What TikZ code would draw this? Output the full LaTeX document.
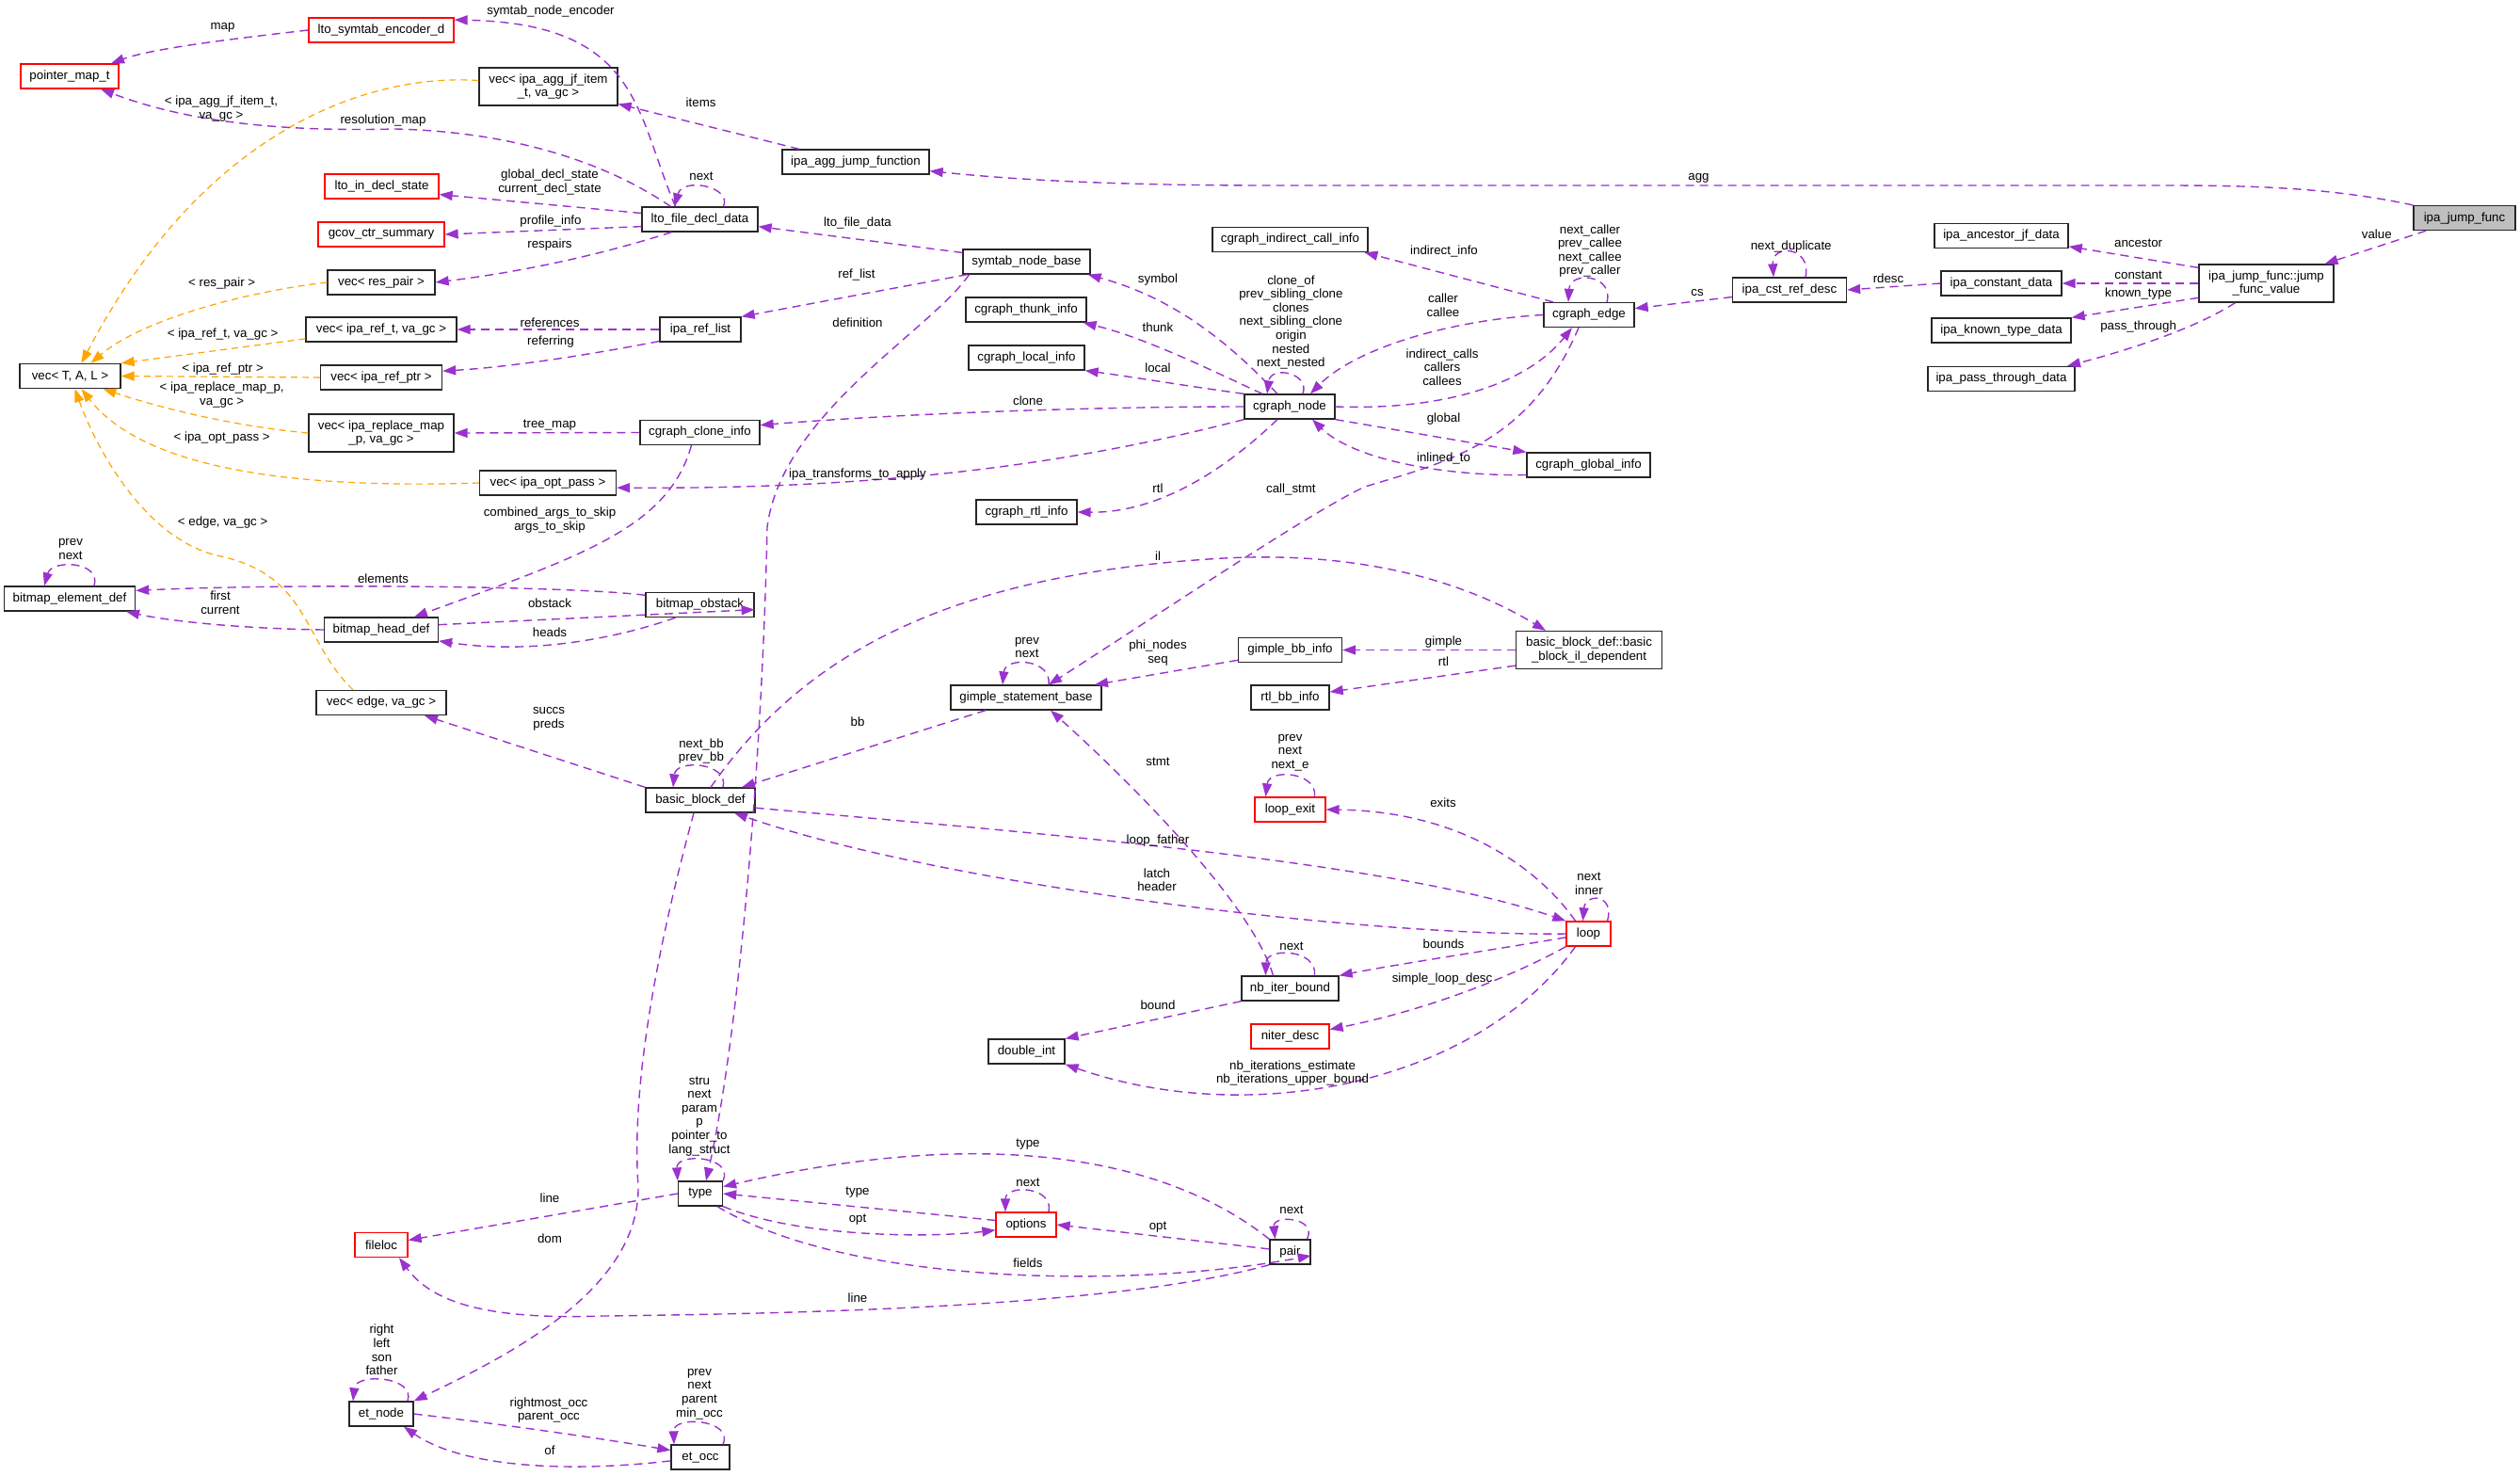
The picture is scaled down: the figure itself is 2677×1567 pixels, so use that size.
\documentclass[tikz,border=0pt]{standalone}
\usepackage{fontspec}
\setmainfont{Liberation Sans}
\usetikzlibrary{arrows.meta}
\definecolor{edgeP}{HTML}{9A32CD}
\definecolor{edgeO}{HTML}{FFA500}
\definecolor{gfill}{HTML}{BFBFBF}
\newcommand\dxf{\fontsize{13.3}{14.6}\selectfont}
\tikzset{
  cls/.style={draw=black!85, line width=1.3pt, fill=white, inner sep=0pt, minimum height=26pt, font=\dxf, align=center},
  cls2/.style={cls, minimum height=40pt},
  trunc/.style={cls, draw=red},
  e/.style={draw=edgeP, line width=1.4pt, dash pattern=on 9pt off 6pt, -{Triangle[length=14pt,width=10pt]}},
  eo/.style={e, draw=edgeO, line width=1.2pt, dash pattern=on 7pt off 5pt},
  lab/.style={font=\dxf, inner sep=0pt, align=center},
}
\begin{document}
\begin{tikzpicture}[x=1pt,y=-1pt]
\fill[white] (0,0) rectangle (2677,1567);
\useasboundingbox (0,0) rectangle (2677,1567);

% ---------- nodes ----------
\node[trunc, minimum width=154pt] (enc) at (405,32) {lto\_symtab\_encoder\_d};
\node[trunc, minimum width=104pt] (ptr) at (74,81) {pointer\_map\_t};
\node[cls2, minimum width=147pt] (vagg) at (582.5,92) {vec< ipa\_agg\_jf\_item\\\_t, va\_gc >};
\node[trunc, minimum width=121pt] (lin) at (405.5,198) {lto\_in\_decl\_state};
\node[trunc, minimum width=134pt] (gcov) at (405,249) {gcov\_ctr\_summary};
\node[cls, minimum width=114pt] (vres) at (405,300) {vec< res\_pair >};
\node[cls, minimum width=160pt] (vref) at (405,350) {vec< ipa\_ref\_t, va\_gc >};
\node[cls, minimum width=107pt] (vtal) at (74.5,399.5) {vec< T, A, L >};
\node[cls, minimum width=129pt] (vptr) at (405,401) {vec< ipa\_ref\_ptr >};
\node[cls2, minimum width=154pt] (vrep) at (405,460) {vec< ipa\_replace\_map\\\_p, va\_gc >};
\node[cls, minimum width=145pt] (vopt) at (582,513) {vec< ipa\_opt\_pass >};
\node[cls, minimum width=156pt] (aggjf) at (909,172) {ipa\_agg\_jump\_function};
\node[cls, minimum width=123pt] (lfdd) at (743.5,233) {lto\_file\_decl\_data};
\node[cls, minimum width=135pt] (snb) at (1090.5,278) {symtab\_node\_base};
\node[cls, minimum width=128pt] (thunk) at (1090,329) {cgraph\_thunk\_info};
\node[cls, minimum width=123pt] (local) at (1090.5,380) {cgraph\_local\_info};
\node[cls, minimum width=86pt] (reflist) at (744,350) {ipa\_ref\_list};
\node[cls, minimum width=127pt] (clone) at (743.5,459.5) {cgraph\_clone\_info};
\node[cls, minimum width=96pt] (cnode) at (1370,432) {cgraph\_node};
\node[cls, minimum width=165pt] (ici) at (1370.5,254.5) {cgraph\_indirect\_call\_info};
\node[cls, minimum width=96pt] (cedge) at (1688,334.5) {cgraph\_edge};
\node[cls, minimum width=121pt] (cst) at (1901,308) {ipa\_cst\_ref\_desc};
\node[cls, minimum width=131pt] (cgi) at (1687.5,494) {cgraph\_global\_info};
\node[cls, minimum width=108pt, fill=gfill] (jf) at (2618,231.6) {ipa\_jump\_func};
\node[cls, minimum width=142pt] (anc) at (2126,250.5) {ipa\_ancestor\_jf\_data};
\node[cls2, minimum width=143pt] (jfv) at (2407.5,301) {ipa\_jump\_func::jump\\\_func\_value};
\node[cls, minimum width=128pt] (const) at (2126,301) {ipa\_constant\_data};
\node[cls, minimum width=148pt] (known) at (2126,351) {ipa\_known\_type\_data};
\node[cls, minimum width=156pt] (pass) at (2126,402.5) {ipa\_pass\_through\_data};
\node[cls, minimum width=139pt] (bed) at (74,636) {bitmap\_element\_def};
\node[cls, minimum width=121pt] (bhd) at (405,669) {bitmap\_head\_def};
\node[cls, minimum width=138pt] (vedge) at (405,746.5) {vec< edge, va\_gc >};
\node[cls, minimum width=115pt] (bobs) at (743.5,642.5) {bitmap\_obstack};
\node[cls, minimum width=107pt] (rtli) at (1090.5,544) {cgraph\_rtl\_info};
\node[cls, minimum width=160pt] (gsb) at (1090,741) {gimple\_statement\_base};
\node[cls, minimum width=116pt] (bbd) at (744,850) {basic\_block\_def};
\node[cls, minimum width=110pt] (gbb) at (1370.5,690.5) {gimple\_bb\_info};
\node[cls2, minimum width=155pt] (bbil) at (1688,690.5) {basic\_block\_def::basic\\\_block\_il\_dependent};
\node[cls, minimum width=83pt] (rbb) at (1370.5,741) {rtl\_bb\_info};
\node[trunc, minimum width=75pt] (lexit) at (1370.5,860) {loop\_exit};
\node[trunc, minimum width=47pt] (loop) at (1687.5,992) {loop};
\node[cls, minimum width=103pt] (nib) at (1370.5,1050) {nb\_iter\_bound};
\node[trunc, minimum width=83pt] (nd) at (1370.5,1101) {niter\_desc};
\node[cls, minimum width=43pt] (pair) at (1370.5,1330) {pair};
\node[cls, minimum width=81pt] (dint) at (1090.5,1117) {double\_int};
\node[cls, minimum width=47pt] (type) at (744,1268) {type};
\node[trunc, minimum width=64pt] (opts) at (1090,1301) {options};
\node[cls, minimum width=62pt] (etocc) at (744,1548) {et\_occ};
\node[trunc, minimum width=56pt] (fileloc) at (405,1322.5) {fileloc};
\node[cls, minimum width=68pt] (etnode) at (405,1502) {et\_node};

% ---------- orange template edges ----------
\draw[eo] (vagg.175) .. controls (400,78) and (220,130) .. ([xshift=12pt]vtal.north);
\draw[eo] (vres.west) .. controls (260,310) and (150,340) .. ([xshift=22pt]vtal.north);
\draw[eo] (vref.187) -- (vtal.north east);
\draw[eo] (vptr.west) -- (vtal.east);
\draw[eo] (vrep.west) .. controls (240,452) and (160,430) .. ([xshift=35pt]vtal.south);
\draw[eo] (vopt.west) .. controls (300,520) and (150,495) .. ([xshift=12pt]vtal.south);
\draw[eo] ([xshift=-30pt]vedge.north) .. controls (320,680) and (330,610) .. (230,590) .. controls (150,570) and (100,470) .. ([xshift=5pt]vtal.south);

% ---------- purple edges ----------
\draw[e] (enc.west) .. controls (240,42) and (160,52) .. ([xshift=44pt]ptr.north);
\draw[e] ([xshift=-26pt]lfdd.north) .. controls (675,120) and (680,25) .. (enc.8);
\draw[e] ([xshift=-31pt]lfdd.north) .. controls (640,170) and (540,140) .. (420,137) .. controls (300,140) and (200,130) .. ([xshift=33pt]ptr.south);
\draw[e] ([xshift=-60pt]aggjf.north) -- (vagg);
\draw[e] (jf.north west) .. controls (2480,200) and (2400,197) .. (2300,197) -- (1350,197) .. controls (1150,197) and (1050,188) .. (aggjf.-7);
\draw[e] ([xshift=-41pt]jf.south) -- ([xshift=62pt]jfv.north);
\draw[e] (jfv.167) -- (anc.-9);
\draw[e] (jfv.west) -- (const.east);
\draw[e] (jfv.192) -- (known.north east);
\draw[e] ([xshift=-33pt]jfv.south) .. controls (2330,350) and (2260,372) .. ([xshift=70pt]pass.north);
\draw[e] (const.west) -- (cst.east);
\draw[e] (cst.187) -- (cedge.8);
\draw[e] ([xshift=17pt]cst.north) .. controls (1925,262) and (1882,258) .. ([xshift=-17pt]cst.north);
\draw[e] ([xshift=-38pt]cedge.north) -- ([xshift=79pt]ici.south);
\draw[e] ([xshift=19pt]cedge.north) .. controls (1715,292) and (1668,287) .. ([xshift=-22pt]cedge.north);
\draw[e] (cedge.west) .. controls (1540,340) and (1440,370) .. ([xshift=22pt]cnode.north);
\draw[e] (cnode.east) .. controls (1530,436) and (1620,410) .. ([xshift=-18pt]cedge.south);
\draw[e] (cnode.south east) -- (cgi.north west);
\draw[e] (cgi.189) .. controls (1540,506) and (1440,490) .. ([xshift=24pt]cnode.south);
\draw[e] ([xshift=-11pt]cedge.south) .. controls (1625,470) and (1540,490) .. (1450,517) .. controls (1390,545) and (1220,660) .. ([xshift=24pt]gsb.north);
\draw[e] ([xshift=14pt]cnode.north) .. controls (1392,396) and (1350,388) .. ([xshift=-24pt]cnode.north);
\draw[e] ([xshift=-13pt]cnode.north) .. controls (1320,380) and (1260,320) .. ([xshift=-3pt]snb.south east);
\draw[e] ([xshift=-29pt]cnode.north) .. controls (1290,395) and (1220,360) .. ([xshift=-4pt]thunk.south east);
\draw[e] (cnode.north west) .. controls (1260,410) and (1200,400) .. (local.south east);
\draw[e] (cnode.west) .. controls (1150,432) and (950,440) .. (clone.7);
\draw[e] (cnode.south west) .. controls (1150,490) and (950,520) .. (vopt.-4);
\draw[e] ([xshift=-13pt]cnode.south) .. controls (1300,500) and (1230,545) .. (rtli.east);
\draw[e] (snb.172) -- (lfdd.-7);
\draw[e] ([xshift=-63pt]snb.south) -- (reflist.north east);
\draw[e] ([xshift=-61pt]snb.south) .. controls (990,350) and (830,440) .. (815,560) .. controls (810,800) and (785,1100) .. ([xshift=6pt]type.north);
\draw[e] ([xshift=25pt]lfdd.north) .. controls (778,198) and (725,188) .. ([xshift=-27pt]lfdd.north);
\draw[e] (lfdd.174) -- (lin.-8);
\draw[e] (lfdd.187) -- (gcov.east);
\draw[e] ([xshift=-30pt]lfdd.south) .. controls (640,270) and (560,288) .. (vres.east);
\draw[e] (reflist.west) -- (vref.east);
\draw[e] (reflist.196) .. controls (620,378) and (540,390) .. (vptr.6);
\draw[e] (clone.west) -- (vrep.east);
\draw[e] ([xshift=-9pt]clone.south) .. controls (710,560) and (620,590) .. ([xshift=35pt]bhd.north);
\draw[e] (bobs.170) .. controls (600,622) and (300,620) .. (bed.7);
\draw[e] (bhd.west) .. controls (260,668) and (180,660) .. ([xshift=60pt]bed.south);
\draw[e] (bhd.5) -- (bobs.-5);
\draw[e] ([xshift=-26pt]bobs.south) .. controls (650,680) and (560,695) .. (bhd.-11);
\draw[e] ([xshift=26pt]bed.north) .. controls (108,596) and (55,594) .. ([xshift=-27pt]bed.north);
\draw[e] (bbd.north west) -- ([xshift=46pt]vedge.south);
\draw[e] ([xshift=11pt]bbd.north) .. controls (850,700) and (1000,610) .. (1300,593) .. controls (1450,585) and (1560,620) .. ([xshift=-46pt]bbil.north);
\draw[e] (bbil.west) -- (gbb.east);
\draw[e] (bbil.192) -- (rbb.8);
\draw[e] (gbb.191) -- ([xshift=73pt]gsb.north);
\draw[e] ([xshift=24pt]gsb.north) .. controls (1118,700) and (1068,697) .. ([xshift=-25pt]gsb.north);
\draw[e] ([xshift=-43pt]gsb.south) -- ([xshift=44pt]bbd.north);
\draw[e] ([xshift=24pt]bbd.north) .. controls (775,810) and (718,806) .. ([xshift=-29pt]bbd.north);
\draw[e] (bbd.-8) .. controls (1100,885) and (1480,915) .. (loop.north west);
\draw[e] (loop.west) .. controls (1450,995) and (1000,940) .. ([xshift=36pt]bbd.south);
\draw[e] ([xshift=-14pt]loop.north) .. controls (1640,930) and (1560,862) .. (lexit.east);
\draw[e] ([xshift=20pt]loop.north) .. controls (1716,950) and (1684,948) .. ([xshift=-6pt]loop.north);
\draw[e] ([xshift=26pt]lexit.north) .. controls (1400,820) and (1348,816) .. ([xshift=-26pt]lexit.north);
\draw[e] (loop.189) .. controls (1580,1010) and (1480,1025) .. (nib.north east);
\draw[e] (loop.south west) .. controls (1620,1030) and (1530,1070) .. (nd.10);
\draw[e] ([xshift=-14pt]loop.south) .. controls (1570,1150) and (1330,1200) .. (dint.south east);
\draw[e] (nib.south west) -- (dint.north east);
\draw[e] ([xshift=-18pt]nib.north) .. controls (1330,960) and (1200,830) .. ([xshift=26pt]gsb.south);
\draw[e] ([xshift=26pt]nib.north) .. controls (1400,1008) and (1345,1006) .. ([xshift=-26pt]nib.north);
\draw[e] (type.north east) .. controls (780,1228) and (718,1224) .. (type.north west);
\draw[e] (opts.172) -- (type.east);
\draw[e] (type.south east) .. controls (850,1315) and (990,1315) .. (opts.190);
\draw[e] ([xshift=18pt]type.south) .. controls (900,1365) and (1200,1370) .. (pair.-10);
\draw[e] (pair.north west) .. controls (1240,1230) and (1050,1195) .. (type.17);
\draw[e] (pair.172) -- (opts.east);
\draw[e] ([xshift=18pt]pair.north) .. controls (1400,1293) and (1352,1290) .. ([xshift=-16pt]pair.north);
\draw[e] ([xshift=24pt]opts.north) .. controls (1120,1260) and (1068,1258) .. ([xshift=-22pt]opts.north);
\draw[e] (type.west) -- (fileloc.10);
\draw[e] (pair.south west) .. controls (1200,1385) and (900,1395) .. (640,1398) .. controls (520,1402) and (460,1385) .. ([xshift=19pt]fileloc.south);
\draw[e] ([xshift=-7pt]bbd.south) .. controls (700,1000) and (670,1150) .. (678,1260) .. controls (680,1370) and (540,1440) .. (etnode.north east);
\draw[e] (etnode.east) .. controls (550,1515) and (650,1530) .. (etocc.167);
\draw[e] (etocc.187) .. controls (600,1565) and (490,1558) .. ([xshift=24pt]etnode.south);
\draw[e] ([xshift=28pt]etnode.north) .. controls (442,1462) and (378,1458) .. ([xshift=-30pt]etnode.north);
\draw[e] ([xshift=24pt]etocc.north) .. controls (780,1508) and (715,1503) .. ([xshift=-28pt]etocc.north);

% ---------- labels ----------
\node[lab] (l1) at (236.6,29) {map};
\node[lab] (l2) at (585,12) {symtab\_node\_encoder};
\node[lab] (l3) at (235,115.5) {< ipa\_agg\_jf\_item\_t,\\va\_gc >};
\node[lab] (l4) at (407,128.5) {resolution\_map};
\node[lab] (l5) at (584,193.5) {global\_decl\_state\\current\_decl\_state};
\node[lab] (l6) at (585,235) {profile\_info};
\node[lab] (l7) at (584,260) {respairs};
\node[lab] (l8) at (235.7,301) {< res\_pair >};
\node[lab] (l9) at (584,342.6) {references};
\node[lab] (l10) at (236.6,354.7) {< ipa\_ref\_t, va\_gc >};
\node[lab] (l11) at (585,362.6) {referring};
\node[lab] (l12) at (236.6,392) {< ipa\_ref\_ptr >};
\node[lab] (l13) at (235.7,419.5) {< ipa\_replace\_map\_p,\\va\_gc >};
\node[lab] (l14) at (584,451.8) {tree\_map};
\node[lab] (l15) at (235.7,465) {< ipa\_opt\_pass >};
\node[lab] (l16) at (236.6,555) {< edge, va\_gc >};
\node[lab] (l17) at (584,552.5) {combined\_args\_to\_skip\\args\_to\_skip};
\node[lab] (l18) at (75,583.4) {prev\\next};
\node[lab] (l19) at (407,614.7) {elements};
\node[lab] (l20) at (234,640) {first\\current};
\node[lab] (l21) at (584,640.5) {obstack};
\node[lab] (l22) at (584,671.5) {heads};
\node[lab] (l23) at (583,764) {succs\\preds};
\node[lab] (l24) at (744.6,108.8) {items};
\node[lab] (l25) at (745,187.7) {next};
\node[lab] (l26) at (911,237) {lto\_file\_data};
\node[lab] (l27) at (910,292) {ref\_list};
\node[lab] (l28) at (911,342.6) {definition};
\node[lab] (l29) at (1230,297) {symbol};
\node[lab] (l30) at (1230,348) {thunk};
\node[lab] (l31) at (1230,391) {local};
\node[lab] (l32) at (1092,426) {clone};
\node[lab] (l33) at (911,504.5) {ipa\_transforms\_to\_apply};
\node[lab] (l34) at (1804.5,189.4) {agg};
\node[lab] (l35) at (1534,267) {indirect\_info};
\node[lab] (l36) at (1689,266.5) {next\_caller\\prev\_callee\\next\_callee\\prev\_caller};
\node[lab] (l37) at (1371.4,342.4) {clone\_of\\prev\_sibling\_clone\\clones\\next\_sibling\_clone\\origin\\nested\\next\_nested};
\node[lab] (l38) at (1533,324) {caller\\callee};
\node[lab] (l39) at (1803,311) {cs};
\node[lab] (l40) at (1902.7,262.4) {next\_duplicate};
\node[lab] (l41) at (1532,390) {indirect\_calls\\callers\\callees};
\node[lab] (l42) at (1533.5,445) {global};
\node[lab] (l43) at (1533.5,486.6) {inlined\_to};
\node[lab] (l44) at (1371.4,520) {call\_stmt};
\node[lab] (l45) at (2006,295.5) {rdesc};
\node[lab] (l46) at (2524.8,248.6) {value};
\node[lab] (l47) at (2271.6,258.3) {ancestor};
\node[lab] (l48) at (2271.6,292.7) {constant};
\node[lab] (l49) at (2271.6,312.3) {known\_type};
\node[lab] (l50) at (2271.6,346.8) {pass\_through};
\node[lab] (l51) at (1230,519) {rtl};
\node[lab] (l52) at (1230,590.6) {il};
\node[lab] (l53) at (1091,688) {prev\\next};
\node[lab] (l54) at (1230,693.7) {phi\_nodes\\seq};
\node[lab] (l55) at (911,767) {bb};
\node[lab] (l56) at (1230,809) {stmt};
\node[lab] (l57) at (745,798) {next\_bb\\prev\_bb};
\node[lab] (l58) at (1230,892.6) {loop\_father};
\node[lab] (l59) at (1229,934.8) {latch\\header};
\node[lab] (l60) at (1533.5,682.5) {gimple};
\node[lab] (l61) at (1533.5,702.5) {rtl};
\node[lab] (l62) at (1370.5,799.7) {prev\\next\\next\_e};
\node[lab] (l63) at (1533,853) {exits};
\node[lab] (l64) at (1688,939) {next\\inner};
\node[lab] (l65) at (1372,1004.8) {next};
\node[lab] (l66) at (1533.5,1002.8) {bounds};
\node[lab] (l67) at (1532,1040.3) {simple\_loop\_desc};
\node[lab] (l68) at (1373,1140) {nb\_iterations\_estimate\\nb\_iterations\_upper\_bound};
\node[lab] (l69) at (1372,1285) {next};
\node[lab] (l70) at (1230,1067.7) {bound};
\node[lab] (l71) at (743,1185.6) {stru\\next\\param\\p\\pointer\_to\\lang\_struct};
\node[lab] (l72) at (1092,1216) {type};
\node[lab] (l73) at (1092,1256) {next};
\node[lab] (l74) at (911,1267) {type};
\node[lab] (l75) at (911,1296) {opt};
\node[lab] (l76) at (1230,1304) {opt};
\node[lab] (l77) at (1092,1342) {fields};
\node[lab] (l78) at (911,1378.6) {line};
\node[lab] (l79) at (743,1481) {prev\\next\\parent\\min\_occ};
\node[lab] (l80) at (584,1272.5) {line};
\node[lab] (l81) at (584,1316) {dom};
\node[lab] (l82) at (405.5,1434) {right\\left\\son\\father};
\node[lab] (l83) at (583,1498) {rightmost\_occ\\parent\_occ};
\node[lab] (l84) at (584,1541) {of};
\end{tikzpicture}
\end{document}
